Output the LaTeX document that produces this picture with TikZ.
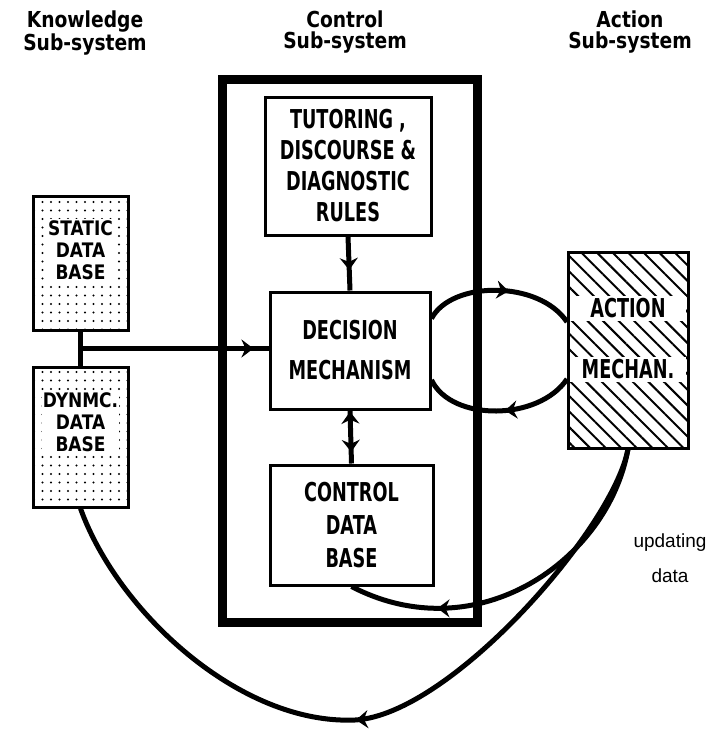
\documentclass[tikz,border=0pt]{standalone}
\usepackage{fontspec}
\setmainfont{Liberation Sans}
\newfontfamily\headfont{DejaVu Sans}[FakeStretch=0.85]
\newfontfamily\boxfont{DejaVu Sans}[FakeStretch=0.68]
\usetikzlibrary{arrows.meta, decorations.markings, patterns.meta, calc}

\begin{document}
\begin{tikzpicture}[
    x=1pt, y=-1pt,
    title/.style={font=\headfont\bfseries\fontsize{22}{21}\selectfont,
                  align=center, anchor=north, inner sep=0pt},
    kbox/.style={rectangle, draw, line width=3pt, minimum width=95pt,
                 pattern={Dots[distance=8.5pt,radius=1.1pt]}},
    ktext/.style={fill=white, inner sep=1pt, align=center,
                  font=\headfont\bfseries\fontsize{20}{22}\selectfont},
    cbox/.style={rectangle, draw, line width=3pt, fill=white, align=center,
                 font=\boxfont\bfseries\fontsize{26}{31}\selectfont},
    abox/.style={rectangle, draw, line width=3pt, minimum width=120pt,
                 minimum height=196pt,
                 pattern={Lines[angle=-45,distance=11pt,line width=2pt]}},
    band/.style={fill=white, minimum width=116pt, minimum height=25pt,
                 inner sep=0pt, font=\boxfont\bfseries\fontsize{26}{26}\selectfont},
    outer/.style={rectangle, draw, line width=9pt, minimum width=255pt,
                  minimum height=543pt},
    note/.style={font=\fontsize{19}{35}\selectfont, align=center},
    link/.style={line width=5pt},
    midarrow/.style={postaction={decorate}, decoration={markings,
                     mark=at position #1 with {\arrow{Stealth[length=12pt,width=18pt,inset=4pt]}}}},
    twoway/.style={postaction={decorate}, decoration={markings,
                   mark=at position 0.25 with {\arrow{Stealth[length=12pt,width=18pt,inset=4pt,reversed]}},
                   mark=at position 0.78 with {\arrow{Stealth[length=12pt,width=18pt,inset=4pt]}}}}
]
\useasboundingbox (0,0) rectangle (712,729);

% Titles
\node[title] at (85,11) (ktitle) {Knowledge\\Sub-system};
\node[title] at (345,11) (ctitle) {Control\\Sub-system};
\node[title] at (630,11) (atitle) {Action\\Sub-system};

% Control sub-system
\node[outer] at (350,351) (ctrl) {};
\node[cbox, minimum width=166pt, minimum height=138pt] at (348,166) (tut)
    {TUTORING ,\\DISCOURSE \&\\DIAGNOSTIC\\RULES};
\node[cbox, minimum width=160pt, minimum height=117pt] at (350,350.5) (dec)
    {DECISION\\[9pt]MECHANISM};
\node[cbox, minimum width=163pt, minimum height=120pt] at (351.5,525) (cdb)
    {CONTROL\\[2pt]DATA\\[2pt]BASE};

% Knowledge sub-system
\node[kbox, minimum height=134pt] at (80.5,263) (static) {};
\node[ktext] at (80.5,250) (stext) {STATIC\\DATA\\BASE};
\node[kbox, minimum height=140pt] at (80.5,437) (dyn) {};
\node[ktext] at (80.5,422) (dtext) {DYNMC.\\DATA\\BASE};

% Action sub-system
\node[abox] at (628,350) (act) {};
\node[band] at (628,308.5) (aline1) {ACTION};
\node[band] at (628,369) (aline2) {MECHAN.};

\node[note] at (670,558) (upd) {updating\\data};

% Connectors
\coordinate (kjoin) at ($(static.south)!0.5!(dyn.north)$);
\draw[link] (static.south) -- (dyn.north);
\draw[link, midarrow=0.92] (kjoin) -- (kjoin -| dec.west);
\draw[link, midarrow=0.62] (tut.south) -- (dec.north);
\draw[link, twoway] (dec.south) -- (cdb.north);

\draw[link, midarrow=0.56] ([yshift=32pt]dec.east)
    .. controls +(20,-38) and +(-28,-42) .. ([yshift=28pt]act.west);
\draw[link, midarrow=0.46] ([yshift=-29pt]act.west)
    .. controls +(-28,42) and +(20,42) .. ([yshift=-29.5pt]dec.east);

\draw[link, midarrow=0.75] (act.south)
    .. controls +(-20,112) and +(125,65) .. (cdb.south);
\coordinate (arcbot) at (355,720);
\draw[link, midarrow=0.52] (act.south)
    .. controls +(-15,80) and +(95,-5) .. (arcbot)
    .. controls +(-115,5) and +(37,103) .. (dyn.south);

\end{tikzpicture}
\end{document}
